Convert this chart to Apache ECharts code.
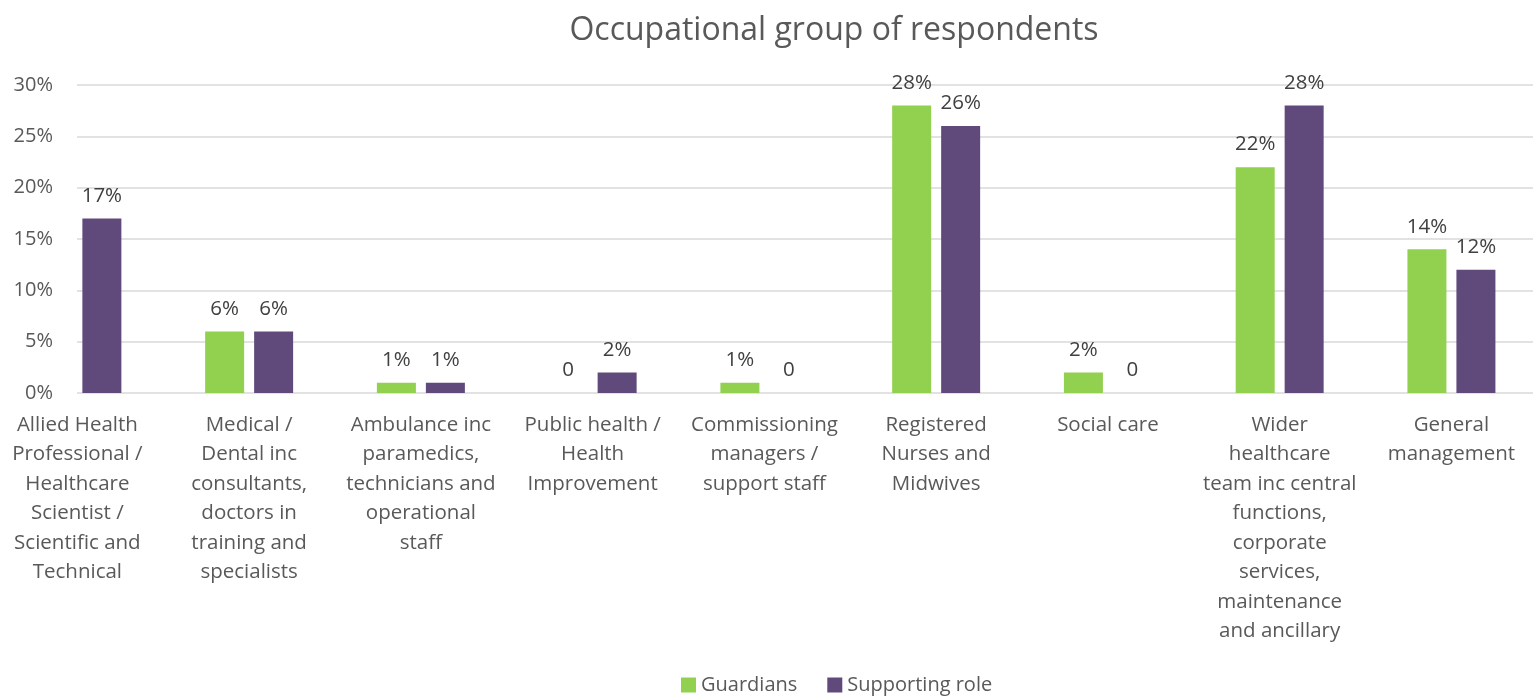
<!DOCTYPE html>
<html>
<head>
<meta charset="utf-8">
<title>Occupational group of respondents</title>
<script src="https://cdn.jsdelivr.net/npm/echarts@6/dist/echarts.min.js"></script>
<style>
  html, body { margin: 0; padding: 0; background: #ffffff; overflow: hidden; }
  #wrap { position: relative; width: 1533px; height: 697px; overflow: hidden; }
  /* the canvas is a little wider than the page so the first and last
     category slots can run past the visible edges */
  #chart { position: absolute; left: -20px; top: 0; width: 1573px; height: 697px; }
</style>
</head>
<body>
<div id="wrap"><div id="chart"></div></div>
<script>
// Occupational groups (x-axis categories, wrapped as they appear under the axis)
const categories = [
  'Allied Health\nProfessional /\nHealthcare\nScientist /\nScientific and\nTechnical',
  'Medical /\nDental inc\nconsultants,\ndoctors in\ntraining and\nspecialists',
  'Ambulance inc\nparamedics,\ntechnicians and\noperational\nstaff',
  'Public health /\nHealth\nImprovement',
  'Commissioning\nmanagers /\nsupport staff',
  'Registered\nNurses and\nMidwives',
  'Social care',
  'Wider\nhealthcare\nteam inc central\nfunctions,\ncorporate\nservices,\nmaintenance\nand ancillary',
  'General\nmanagement'
];

// Share of respondents, in percent (null = no value reported)
const guardians      = [null, 6, 1, 0, 1, 28, 2, 22, 14];
const supportingRole = [17, 6, 1, 2, 0, 26, 0, 28, 12];

const seriesNames = ['Guardians', 'Supporting role'];
const yTicks = { min: 0, max: 30, interval: 5 };

const FONT = '"Open Sans", "Noto Sans", sans-serif';
const TEXT_GREY = '#595959';
const OX = 20; // canvas starts this many pixels left of the page

const chart = echarts.init(document.getElementById('chart'), null, { renderer: 'canvas' });

const valueLabel = {
  show: true,
  position: 'top',
  distance: 12,
  color: '#404040',
  fontFamily: FONT,
  fontSize: 20.5,
  formatter: p => (p.value === 0 ? '0' : p.value + '%')
};

chart.setOption({
  animation: false,
  backgroundColor: '#ffffff',
  title: {
    text: 'Occupational group of respondents',
    left: 829 + OX,
    textAlign: 'center',
    top: 10,
    textStyle: { fontFamily: FONT, fontSize: 32, fontWeight: 'normal', color: TEXT_GREY }
  },
  legend: {
    data: seriesNames,
    left: 676 + OX,
    top: 670,
    itemWidth: 15,
    itemHeight: 15,
    itemGap: 30,
    icon: 'rect',
    textStyle: { fontFamily: FONT, fontSize: 20, color: TEXT_GREY }
  },
  grid: [
    // bars and category labels
    { left: -8.5 + OX, right: OX - 4.3, top: 85, bottom: 304, containLabel: false },
    // gridlines and percentage ticks
    { left: 77 + OX, right: OX, top: 85, bottom: 304, containLabel: false }
  ],
  xAxis: [
    {
      gridIndex: 0,
      type: 'category',
      data: categories,
      axisLine: { show: false },
      axisTick: { show: false },
      axisLabel: {
        interval: 0,
        margin: 17,
        color: TEXT_GREY,
        fontFamily: FONT,
        fontSize: 20.5,
        lineHeight: 29.5
      }
    },
    { gridIndex: 1, type: 'value', min: 0, max: 1, show: false }
  ],
  yAxis: [
    { gridIndex: 0, type: 'value', min: yTicks.min, max: yTicks.max, interval: yTicks.interval, show: false },
    {
      gridIndex: 1,
      type: 'value',
      min: yTicks.min,
      max: yTicks.max,
      interval: yTicks.interval,
      axisLine: { show: false },
      axisTick: { show: false },
      splitLine: { lineStyle: { color: '#d9d9d9', width: 1.5 } },
      axisLabel: {
        margin: 24,
        color: TEXT_GREY,
        fontFamily: FONT,
        fontSize: 20,
        formatter: '{value}%'
      }
    }
  ],
  series: [
    {
      name: seriesNames[0],
      type: 'bar',
      xAxisIndex: 0,
      yAxisIndex: 0,
      data: guardians,
      barWidth: 39,
      barGap: '25.6%',
      itemStyle: { color: '#92d050' },
      label: valueLabel,
      z: 3
    },
    {
      name: seriesNames[1],
      type: 'bar',
      xAxisIndex: 0,
      yAxisIndex: 0,
      data: supportingRole,
      barWidth: 39,
      barGap: '25.6%',
      itemStyle: { color: '#604a7b' },
      label: valueLabel,
      z: 3
    }
  ]
});
</script>
</body>
</html>
